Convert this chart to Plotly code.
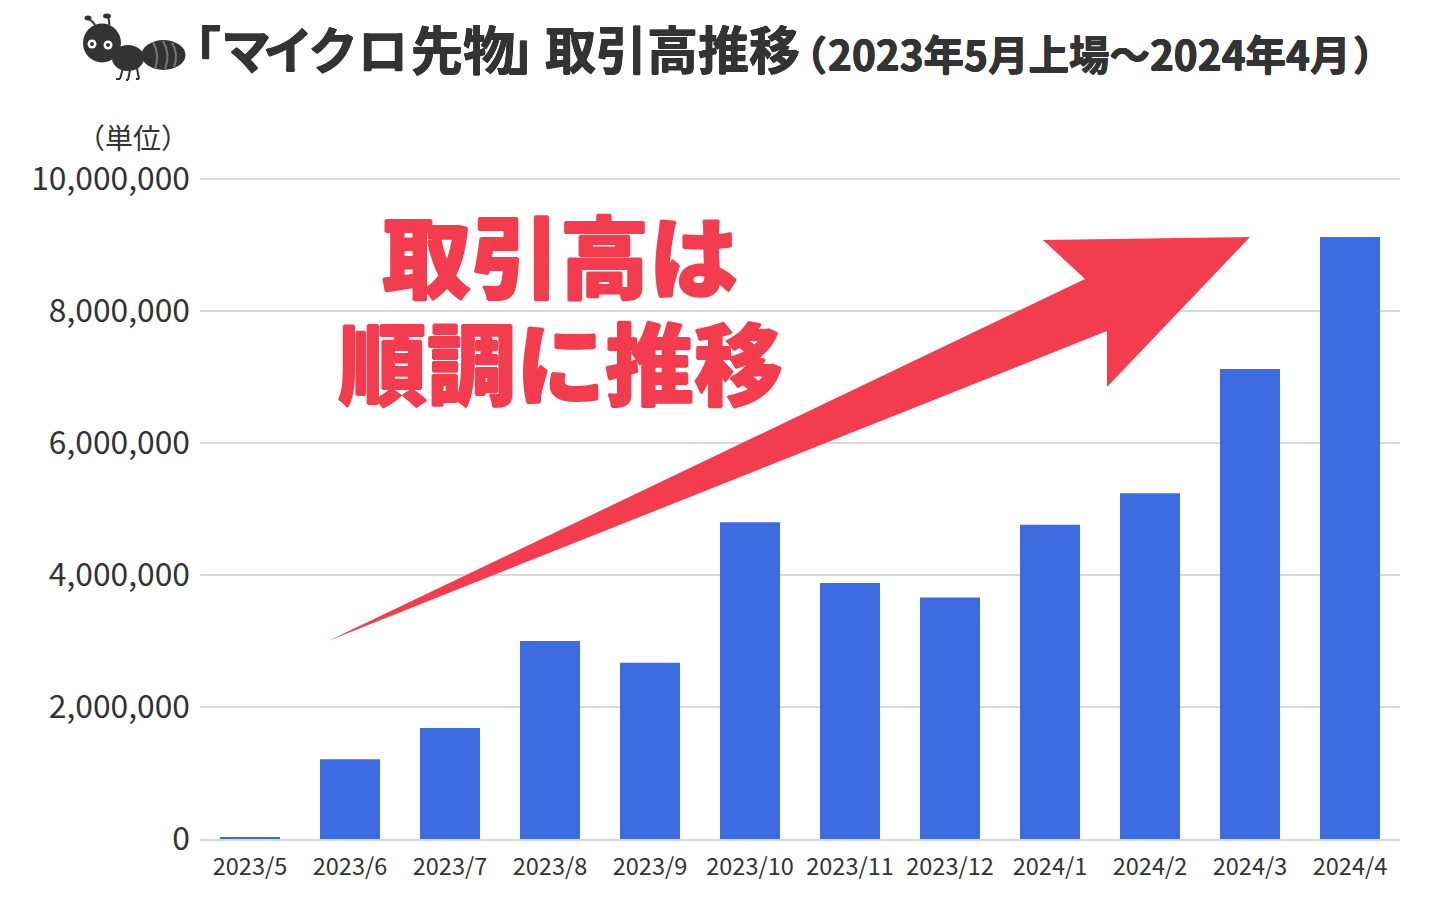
import plotly.graph_objects as go

months = ["2023/5","2023/6","2023/7","2023/8","2023/9","2023/10","2023/11","2023/12","2024/1","2024/2","2024/3","2024/4"]
volume = [30000,1210000,1680000,3000000,2670000,4800000,3880000,3660000,4760000,5240000,7120000,9120000]
y_ticks = [0,2000000,4000000,6000000,8000000,10000000]
y_labels = ["0","2,000,000","4,000,000","6,000,000","8,000,000","10,000,000"]

FONT = "Noto Sans CJK JP"
L, R, T, B = 200, 1400, 169, 839
y_max = 10000000 * (B - T) / 660
px = lambda x: (x - L) / (R - L)
py = lambda y: (B - y) / (B - T)

def ell(cx, cy, rx, ry, color):
    return dict(type="circle", xref="paper", yref="paper", x0=px(cx-rx), x1=px(cx+rx), y0=py(cy+ry), y1=py(cy-ry),
                fillcolor=color, line_width=0, layer="above")

def seg(x0, y0, x1, y1, color="#333333", w=2):
    return dict(type="line", xref="paper", yref="paper", x0=px(x0), x1=px(x1), y0=py(y0), y1=py(y1),
                line=dict(color=color, width=w), layer="above")

def curve(a, c, b, color="#777777", w=2):
    path = f"M{px(a[0])},{py(a[1])} Q{px(c[0])},{py(c[1])} {px(b[0])},{py(b[1])}"
    return dict(type="path", xref="paper", yref="paper", path=path, line=dict(color=color, width=w), layer="above")

arrow_pts = [(328,641),(1085,279),(1043,240),(1250,237),(1107,387),(1107,331)]
arrow_path = "M" + " L".join(f"{px(x)},{py(y)}" for x, y in arrow_pts) + " Z"

shapes = [dict(type="path", xref="paper", yref="paper", path=arrow_path, fillcolor="#f33d4e", line_width=0, layer="above")]
shapes += [
    curve((95,25),(92,20),(88,19),"#333333",2), curve((109,25),(110,20),(107,16),"#333333",2),
    ell(88,18,3.5,2.5,"#333333"), ell(107,16,4,2.5,"#333333"),
    seg(123,68,120,79), seg(120,79,116,79), seg(130,70,128,80), seg(128,80,126,80), seg(137,68,139,79), seg(139,79,136,79),
    ell(163.5,55,22,15,"#333333"), ell(128,58,16,13,"#333333"), ell(102,43,19,19.5,"#333333"),
    ell(92,44,4.5,4.5,"#ffffff"), ell(108,45,4.5,4.5,"#ffffff"), ell(92,44,2,2,"#333333"), ell(108,45,2,2,"#333333"),
    curve((153,42),(160,54),(155,69)), curve((163,41),(171,54),(165,69)), curve((172,43),(179,54),(174,67)),
]

def note(text, x, y, size, anchor="center", color="#333333", weight=400, shadow=None):
    f = dict(family=FONT, size=size, color=color, weight=weight)
    if shadow:
        f["shadow"] = shadow
    return dict(text=text, xref="paper", yref="paper", x=px(x), y=py(y), xanchor=anchor, yanchor="middle",
                showarrow=False, font=f)

S = "1px 0 #f33d4e,-1px 0 #f33d4e,0 1px #f33d4e,0 -1px #f33d4e"
D = "0.5px 0 #333333,-0.5px 0 #333333,0 0.5px #333333,0 -0.5px #333333"
annotations = [
    note("「", 195, 47, 51, weight=700, shadow=D),
    note("マ", 246, 47, 50, weight=700, shadow=D),
    note("イ", 288, 47, 50, weight=700, shadow=D),
    note("ク", 333, 47, 50, weight=700, shadow=D),
    note("ロ", 383, 47, 50, weight=700, shadow=D),
    note("先物", 463, 47, 52, weight=700, shadow=D),
    note("」", 533, 47, 51, weight=700, shadow=D),
    note("取引高推移", 672, 47, 51, weight=700, shadow=D),
    note("（", 807, 53, 40, weight=700, shadow=D),
    note("2023年5月上場～2024年4月", 1089, 53, 40.5, weight=700, shadow=D),
    note("）", 1373, 53, 40, weight=700, shadow=D),
    note("（単位）", 133, 137, 28),
    note("取引高は", 560, 252, 89, "center", "#f33d4e", 900, S),
    note("順調に推移", 560, 359, 89, "center", "#f33d4e", 900, S),
]

fig = go.Figure(go.Bar(x=months, y=volume, marker=dict(color="#3d6ce2", line_width=0), width=0.6))
fig.update_layout(
    width=1440, height=900, margin=dict(l=L, r=1440-R, t=T, b=900-B),
    paper_bgcolor="#ffffff", plot_bgcolor="#ffffff", showlegend=False,
    font=dict(family=FONT, color="#333333"), shapes=shapes, annotations=annotations,
)
fig.update_xaxes(type="category", tickfont=dict(size=23.5, color="#333333"), ticks="", showgrid=False,
                 showline=True, linecolor="#d9d9d9", linewidth=2, automargin=False, ticklabelstandoff=6)
fig.update_yaxes(range=[0,y_max], tickvals=y_ticks, ticktext=y_labels, tickfont=dict(size=31.8, color="#333333"),
                 ticks="", gridcolor="#d9d9d9", gridwidth=2, zeroline=False, automargin=False, ticklabelstandoff=9)
fig.write_html("out.html", config=dict(displayModeBar=False), post_script="document.body.style.margin='0';")
